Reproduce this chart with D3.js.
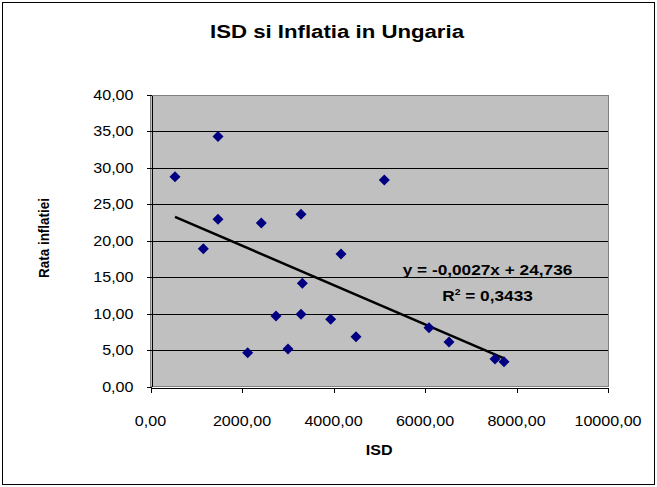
<!DOCTYPE html>
<html>
<head>
<meta charset="utf-8">
<script src="https://cdn.jsdelivr.net/npm/d3@7"></script>
<style>
  body { margin: 0; background: #fff; }
  svg { display: block; font-family: Arial, "Liberation Sans", sans-serif; }
</style>
</head>
<body>
<svg id="chart" width="657" height="487"></svg>
<script>
// data
const isd = [535, 1475, 1475, 2422, 3290, 5111, 1155, 4164, 3319, 2743,
             3290, 3938, 4492, 2124, 3005, 6087, 6525, 7530, 7727];
const inflatie = [28.8, 34.3, 22.96, 22.45, 23.64, 28.35, 18.9, 18.2, 14.18, 9.7,
                  9.93, 9.24, 6.86, 4.66, 5.17, 8.09, 6.13, 3.8, 3.43];
const xTicks = [0, 2000, 4000, 6000, 8000, 10000];
const yTicks = [0, 5, 10, 15, 20, 25, 30, 35, 40];
// trend line from the label
const slope = -0.0027;
const intercept = 24.736;
const eqLabel = "y = -0,0027x + 24,736";
const r2Label = "0,3433";

const width = 657;
const height = 487;
const margin = {left: 150.5, right: 49, top: 95, bottom: 100.3};
const sx = 1.15; // the picture is stretched a bit sideways

const ro = d3.formatLocale({decimal: ",", thousands: "", grouping: [3], currency: ["", ""]});
const fmt = ro.format(".2f");

const svg = d3.select("#chart");

svg.append("rect")
  .attr("x", 2.5).attr("y", 2.5)
  .attr("width", width - 5).attr("height", height - 5)
  .attr("fill", "#fff").attr("stroke", "#000");

const x = d3.scaleLinear().domain([0, 10000]).range([margin.left, width - margin.right]);
const y = d3.scaleLinear().domain([0, 40]).range([height - margin.bottom, margin.top]);

//plot area
svg.append("rect")
  .attr("x", x(0)).attr("y", y(40))
  .attr("width", x(10000) - x(0)).attr("height", y(0) - y(40))
  .attr("fill", "#c0c0c0").attr("stroke", "#808080")
  .attr("shape-rendering", "crispEdges");

//gridlines
svg.append("g")
  .selectAll("line")
  .data(yTicks.filter(d => d > 0 && d < 40))
  .join("line")
  .attr("x1", x(0)).attr("x2", x(10000))
  .attr("y1", d => Math.round(y(d)) + 0.5).attr("y2", d => Math.round(y(d)) + 0.5)
  .attr("stroke", "#000");

//axes
const yAxis = svg.append("g")
  .attr("transform", `translate(${Math.round(x(0)) + 0.5},0)`)
  .call(d3.axisLeft(y).tickValues(yTicks).tickSize(5).tickSizeOuter(0).tickFormat(fmt));
yAxis.selectAll("text").remove();

const xAxis = svg.append("g")
  .attr("transform", `translate(0,${Math.round(y(0)) + 0.5})`)
  .call(d3.axisBottom(x).tickValues(xTicks).tickSize(5).tickSizeOuter(0).tickFormat(fmt));
xAxis.selectAll("text").remove();

svg.selectAll(".domain, .tick line").attr("stroke", "#000").attr("shape-rendering", "crispEdges");

//tick labels, drawn so they can be stretched
svg.append("g")
  .selectAll("text")
  .data(yTicks)
  .join("text")
  .attr("transform", d => `translate(${x(0) - 17},${y(d) + 5}) scale(${sx},1)`)
  .attr("text-anchor", "end")
  .attr("font-size", 14)
  .text(d => fmt(d));

svg.append("g")
  .selectAll("text")
  .data(xTicks)
  .join("text")
  .attr("transform", d => `translate(${x(d)},${y(0) + 39}) scale(${sx},1)`)
  .attr("text-anchor", "middle")
  .attr("font-size", 14)
  .text(d => fmt(d));

//trend line
const xMin = d3.min(isd);
const xMax = d3.max(isd);
svg.append("line")
  .attr("x1", x(xMin)).attr("y1", y(slope * xMin + intercept))
  .attr("x2", x(xMax)).attr("y2", y(slope * xMax + intercept))
  .attr("stroke", "#000").attr("stroke-width", 2.5);

//points
svg.append("g")
  .selectAll("path")
  .data(isd.map((d, i) => [d, inflatie[i]]))
  .join("path")
  .attr("d", "M0,-5.5L5.5,0L0,5.5L-5.5,0Z")
  .attr("transform", d => `translate(${x(d[0])},${y(d[1])})`)
  .attr("fill", "#000080");

//trend label
svg.append("text")
  .attr("transform", `translate(487.5,275) scale(${sx},1)`)
  .attr("text-anchor", "middle")
  .attr("font-size", 15).attr("font-weight", "bold")
  .text(eqLabel);

const r2 = svg.append("text")
  .attr("transform", `translate(487.5,300.7) scale(${sx},1)`)
  .attr("text-anchor", "middle")
  .attr("font-size", 15).attr("font-weight", "bold");
r2.append("tspan").text("R");
r2.append("tspan").attr("font-size", 9).attr("dy", -6).text("2");
r2.append("tspan").attr("dy", 6).text(" = " + r2Label);

//titles
svg.append("text")
  .attr("transform", `translate(337,37.5) scale(1.2,1)`)
  .attr("text-anchor", "middle")
  .attr("font-size", 18.5).attr("font-weight", "bold")
  .text("ISD si Inflatia in Ungaria");

svg.append("text")
  .attr("transform", `translate(${(x(0) + x(10000)) / 2},455) scale(${sx},1)`)
  .attr("text-anchor", "middle")
  .attr("font-size", 14).attr("font-weight", "bold")
  .text("ISD");

svg.append("text")
  .attr("transform", `translate(49,238) rotate(-90) scale(1,${sx})`)
  .attr("text-anchor", "middle")
  .attr("font-size", 13.5).attr("font-weight", "bold")
  .text("Rata inflatiei");
</script>
</body>
</html>
